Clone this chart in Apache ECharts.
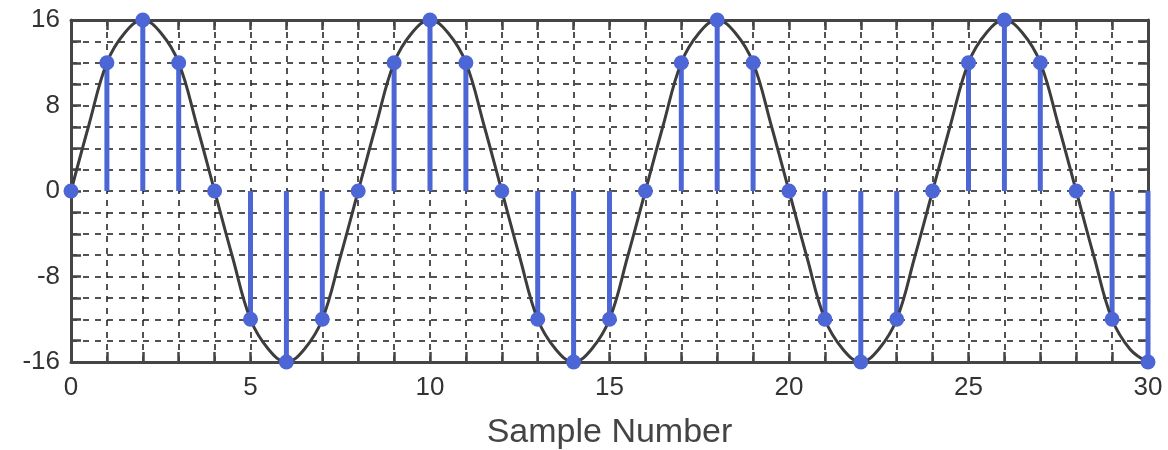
<!DOCTYPE html>
<html>
<head>
<meta charset="utf-8">
<script src="https://cdn.jsdelivr.net/npm/echarts@6/dist/echarts.min.js"></script>
<style>
  html, body { margin: 0; padding: 0; background: #fff; }
  #chart { width: 1168px; height: 450px; }
</style>
</head>
<body>
<div id="chart"></div>
<script>
// Sample index n and the sampled amplitude x[n]
const sampleNumbers = [0,1,2,3,4,5,6,7,8,9,10,11,12,13,14,15,16,17,18,19,20,21,22,23,24,25,26,27,28,29,30];
const sampleValues = [
  0, 12, 16, 12, 0, -12, -16, -12,
  0, 12, 16, 12, 0, -12, -16, -12,
  0, 12, 16, 12, 0, -12, -16, -12,
  0, 12, 16, 12, 0, -12, -16
];

// Continuous waveform, read every half sample (x = 0, 0.5, 1, ... 30)
const curveStep = 0.5;
const curveValues = [
  0, 6.2, 12, 14.8, 16, 14.8, 12, 6.2, 0, -6.2, -12, -14.8, -16, -14.8, -12, -6.2,
  0, 6.2, 12, 14.8, 16, 14.8, 12, 6.2, 0, -6.2, -12, -14.8, -16, -14.8, -12, -6.2,
  0, 6.2, 12, 14.8, 16, 14.8, 12, 6.2, 0, -6.2, -12, -14.8, -16, -14.8, -12, -6.2,
  0, 6.2, 12, 14.8, 16, 14.8, 12, 6.2, 0, -6.2, -12, -14.8, -16
];

// Axis label values
const xTickLabels = [0, 5, 10, 15, 20, 25, 30];
const yTickLabels = [-16, -8, 0, 8, 16];

const stemColor = '#4c66d6';
const frameColor = '#454545';
const fontFamily = '"Liberation Sans", Arial, sans-serif';

const samplePoints = sampleNumbers.map((n, i) => [n, sampleValues[i]]);
const curvePoints = curveValues.map((v, i) => [i * curveStep, v]);

const gridLine = { show: true, lineStyle: { color: '#1a1a1a', width: 1.5, type: [6, 6] } };
const tickIn = (len) => ({ show: true, inside: true, length: len, lineStyle: { color: frameColor, width: 2.5 } });

const chart = echarts.init(document.getElementById('chart'), null, { renderer: 'canvas' });
chart.setOption({
  animation: false,
  backgroundColor: '#ffffff',
  grid: { left: 71, right: 20, top: 20, bottom: 88, containLabel: false, outerBoundsMode: 'none' },
  xAxis: [
    {
      type: 'value', min: 0, max: 30, interval: 1, position: 'bottom',
      name: 'Sample Number', nameLocation: 'middle', nameGap: 54,
      nameTextStyle: { fontSize: 34, color: '#444', fontFamily },
      axisLine: { show: true, onZero: false, lineStyle: { color: frameColor, width: 3 } },
      axisTick: tickIn(10),
      splitLine: gridLine,
      axisLabel: {
        fontSize: 26, color: '#333', fontFamily, margin: 13,
        showMinLabel: true, showMaxLabel: true,
        formatter: v => xTickLabels.includes(v) ? String(v) : ''
      }
    },
    {
      type: 'value', min: 0, max: 30, interval: 1, position: 'top',
      axisLine: { show: true, onZero: false, lineStyle: { color: frameColor, width: 3 } },
      axisTick: tickIn(10),
      splitLine: { show: false },
      axisLabel: { show: false }
    }
  ],
  yAxis: [
    {
      type: 'value', min: -16, max: 16, interval: 2, position: 'left',
      axisLine: { show: true, onZero: false, lineStyle: { color: frameColor, width: 3 } },
      axisTick: tickIn(10),
      splitLine: gridLine,
      axisLabel: {
        fontSize: 26, color: '#333', fontFamily, margin: 11,
        showMinLabel: true, showMaxLabel: true,
        formatter: v => yTickLabels.includes(v) ? String(v) : ''
      }
    },
    {
      type: 'value', min: -16, max: 16, interval: 2, position: 'right',
      axisLine: { show: true, onZero: false, lineStyle: { color: frameColor, width: 3 } },
      axisTick: tickIn(10),
      splitLine: { show: false },
      axisLabel: { show: false }
    }
  ],
  series: [
    {
      // stems from zero to each sample
      type: 'custom',
      xAxisIndex: 0, yAxisIndex: 0,
      z: 2,
      data: samplePoints,
      renderItem: (params, api) => {
        const top = api.coord([api.value(0), api.value(1)]);
        const base = api.coord([api.value(0), 0]);
        return {
          type: 'line',
          shape: { x1: base[0], y1: base[1], x2: top[0], y2: top[1] },
          style: { stroke: stemColor, lineWidth: 5 }
        };
      }
    },
    {
      type: 'line',
      xAxisIndex: 0, yAxisIndex: 0,
      z: 3,
      data: curvePoints,
      smooth: 0.4,
      showSymbol: false,
      lineStyle: { color: '#3d3d3d', width: 3 }
    },
    {
      type: 'scatter',
      xAxisIndex: 0, yAxisIndex: 0,
      z: 4,
      data: samplePoints,
      symbol: 'circle',
      symbolSize: 15,
      itemStyle: { color: stemColor, opacity: 1 }
    }
  ]
});
</script>
</body>
</html>
